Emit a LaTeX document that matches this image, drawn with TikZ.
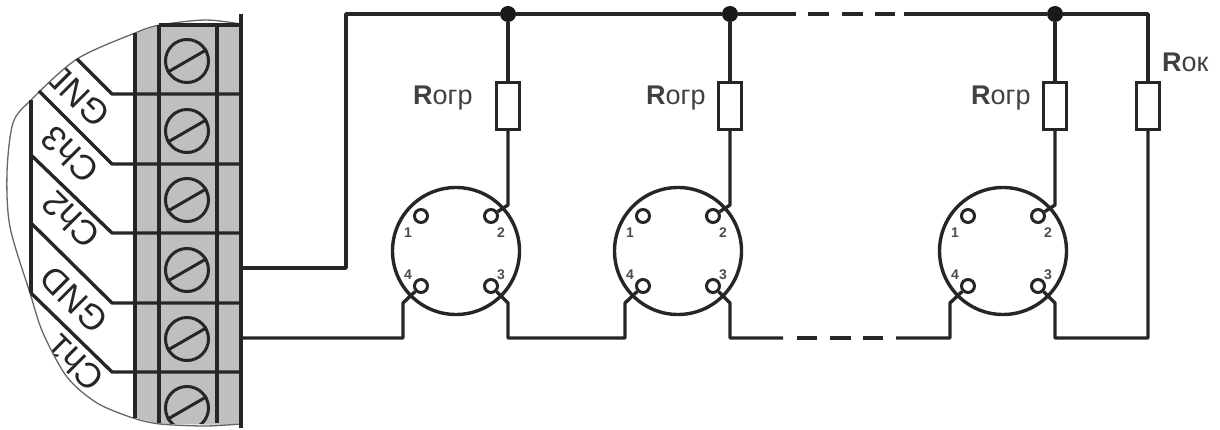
\documentclass[tikz,border=0pt]{standalone}
\usepackage{fontspec}
\setmainfont{Liberation Sans}
\tikzstyle{wire} = [draw=black!85, line width=3.4pt, line join=round]
\tikzstyle{res} = [draw=black!85, line width=3.4pt, fill=white, rectangle, minimum width=23pt, minimum height=47pt, inner sep=0pt]
\tikzstyle{sensor} = [draw=black!85, line width=3.4pt, circle, minimum size=127pt, inner sep=0pt]
\tikzstyle{pin} = [draw=black!85, line width=3pt, circle, fill=white, minimum size=13pt, inner sep=0pt]
\tikzstyle{dot} = [fill=black!90, circle, minimum size=16pt, inner sep=0pt]
\tikzstyle{pinnum} = [text=black!70, font=\fontsize{14}{14}\selectfont\bfseries, inner sep=0pt]
\tikzstyle{tag} = [text=black!75, font=\fontsize{27}{27}\selectfont, inner sep=0pt, anchor=base west]
\tikzstyle{chan} = [text=black!85, font=\fontsize{35}{35}\selectfont, inner sep=0pt, rotate=135]
\tikzstyle{term} = [draw=black!85, line width=3pt, circle, minimum size=43pt, inner sep=0pt]

\begin{document}
\begin{tikzpicture}[x=1pt, y=-1pt]
            \useasboundingbox (0,0) rectangle (1220,430);

            % Terminal block
            \fill[gray!50] (136,33) -- (160,25) -- (240,24) -- (240,425) -- (160,424) -- (136,418) -- cycle;
            \begin{scope}
                \clip plot[smooth] coordinates {(241,24) (205,20) (160,25) (135,33) (77,59) (31,100) (13,123) (7,173) (10,227) (30,293) (43,333) (67,377) (97,403) (133,418) (160,424) (205,426) (241,424)} -- cycle;
                \node[chan] (LabelA) at (76,94) {GND};
                \node[chan] (LabelB) at (70,155) {Ch3};
                \node[chan] (LabelC) at (71,220) {Ch2};
                \node[chan] (LabelD) at (74,300) {GND};
                \node[chan] (LabelE) at (75,363) {Ch1};
            \end{scope}
            \draw[black!60, line width=1.3pt] plot[smooth] coordinates {(241,24) (205,20) (160,25) (135,33) (77,59) (31,100) (13,123) (7,173) (10,227) (30,293) (43,333) (67,377) (97,403) (133,418) (160,424) (205,426) (241,424)};
            \foreach \xa in {135,159,217} {
                \draw[black!85, line width=3.4pt] (\xa,33) -- (\xa,418);
            }
            \draw[black!85, line width=3.4pt] (159,25) -- (241,25);
            \draw[black!85, line width=3.4pt] (159,25) -- (159,423);
            \draw[black!85, line width=3.4pt] (217,25) -- (217,423);
            \draw[black!85, line width=3.4pt] (241,14) -- (241,428);

            % Leads of the channels
            \draw[wire] (77,59) -- (112,94) -- (241,94);
            \draw[wire] (39,91) -- (112,164) -- (241,164);
            \draw[wire] (31,155) -- (112,233) -- (241,233);
            \draw[wire] (31,223) -- (112,303) -- (241,303);
            \draw[wire] (31,293) -- (112,372) -- (241,372);
            \draw[wire] (31,100) -- (31,293);

            % Screws
            \foreach \n/\ya in {1/61,2/131,3/200,4/270,5/339} {
                \node[term] (Screw\n) at (187,\ya) {};
                \draw[black!85, line width=3pt] (Screw\n.210) -- (Screw\n.30);
            }
            \begin{scope}
                \clip (150,380) rectangle (230,423);
                \node[term] (Screw6) at (187,408) {};
                \draw[black!85, line width=3pt] (Screw6.210) -- (Screw6.30);
            \end{scope}

            % Defining nodes
            \coordinate (OutA) at (241,268);
            \coordinate (OutB) at (241,338);
            \coordinate (CornerA) at (346,268);
            \coordinate (CornerB) at (346,14);
            \coordinate (CornerC) at (1148,14);
            \coordinate (CornerD) at (1148,338);
            \foreach \n/\xa/\xb in {A/456/508,B/678/730,C/1003/1055} {
                \node[sensor] (Sensor\n) at (\xa,251) {};
                \node[pin] (Pin\n1) at (\xa-35,216) {};
                \node[pin] (Pin\n2) at (\xa+35,216) {};
                \node[pin] (Pin\n3) at (\xa+35,286) {};
                \node[pin] (Pin\n4) at (\xa-35,286) {};
                \node[pinnum] (Num\n1) at (\xa-48,233) {1};
                \node[pinnum] (Num\n2) at (\xa+45,233) {2};
                \node[pinnum] (Num\n3) at (\xa+45,275) {3};
                \node[pinnum] (Num\n4) at (\xa-48,275) {4};
                \node[res] (Res\n) at (\xb,106) {};
                \node[dot] (Dot\n) at (\xb,14) {};
                \draw[wire] (Dot\n) -- (Res\n);
                \draw[wire] (Res\n) -- (\xb,205) -- (Pin\n2);
            }
            \node[res] (ResD) at (1148,106) {};
            \node[tag] (TagA) at (413,105) {\textbf{R}огр};
            \node[tag] (TagB) at (646,105) {\textbf{R}огр};
            \node[tag] (TagC) at (971,105) {\textbf{R}огр};
            \node[tag] (TagD) at (1162,72) {\textbf{R}ок};

            % Drawing diagram
            \draw[wire] (OutA) -- (CornerA) -- (CornerB) -- (DotA);
            \draw[wire] (DotA) -- (DotB) -- (796,14);
            \draw[wire] (808,14) -- (829,14);
            \draw[wire] (842,14) -- (863,14);
            \draw[wire] (875,14) -- (895,14);
            \draw[wire] (904,14) -- (DotC);
            \draw[wire] (DotC) -- (CornerC) -- (ResD);
            \draw[wire] (ResD) -- (CornerD) -- (1055,338) -- (1055,303) -- (PinC3);
            \draw[wire] (OutB) -- (403,338) -- (403,303) -- (PinA4);
            \draw[wire] (PinA3) -- (508,303) -- (508,338) -- (625,338) -- (625,303) -- (PinB4);
            \draw[wire] (PinB3) -- (730,303) -- (730,338) -- (783,338);
            \draw[wire] (797,338) -- (817,338);
            \draw[wire] (830,338) -- (851,338);
            \draw[wire] (863,338) -- (883,338);
            \draw[wire] (896,338) -- (950,338) -- (950,303) -- (PinC4);
\end{tikzpicture}
\end{document}
